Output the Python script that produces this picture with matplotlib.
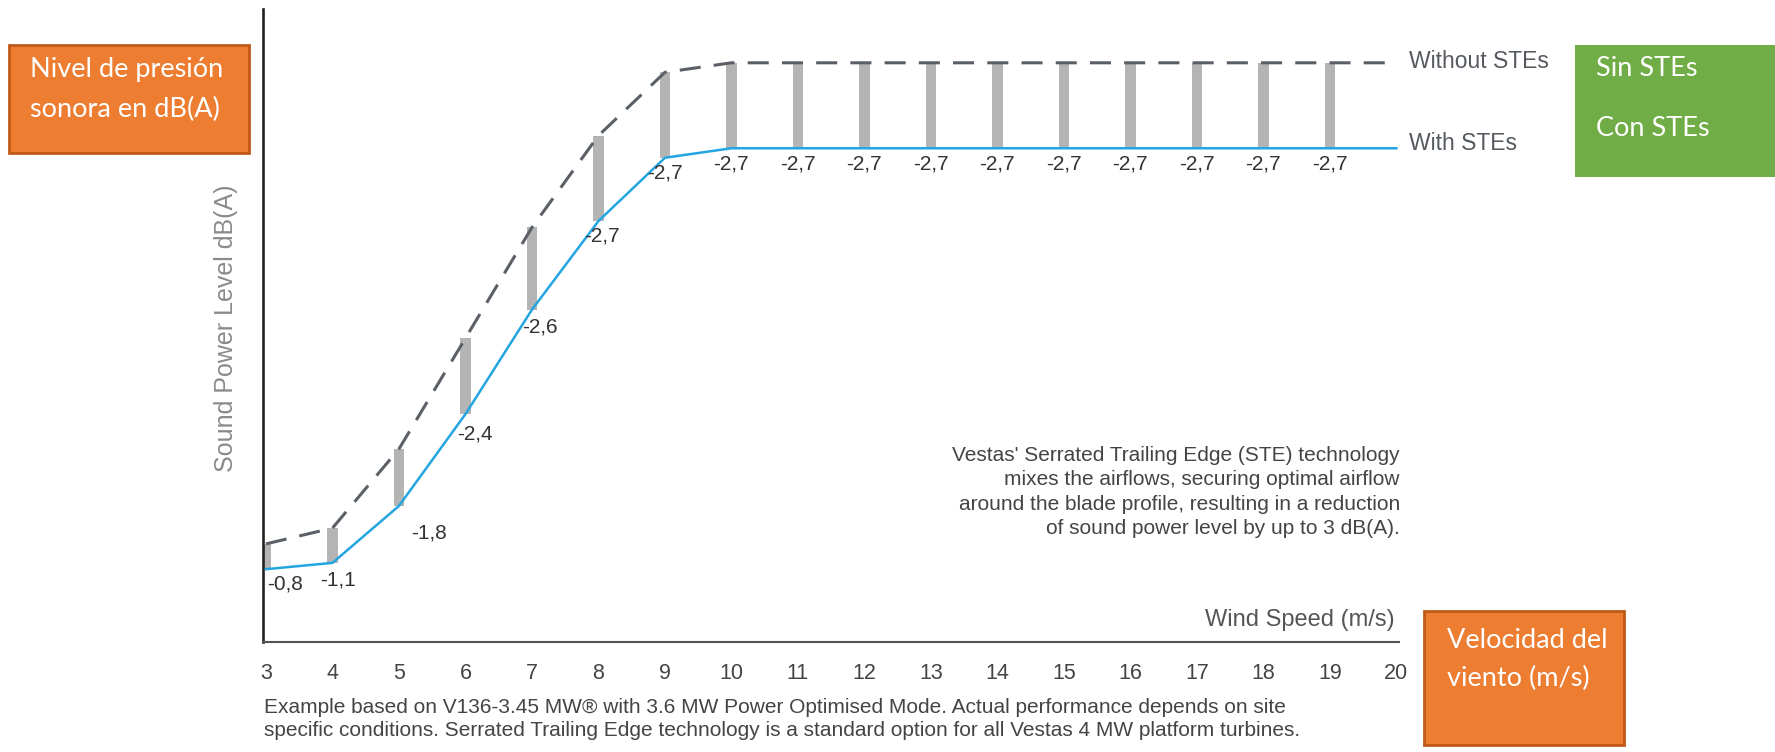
import matplotlib
matplotlib.use("Agg")
import matplotlib.pyplot as plt
from matplotlib.patches import Rectangle

# values (y axis has no ticks, dB values are estimates)
wind_speed = [3, 4, 5, 6, 7, 8, 9, 10, 11, 12, 13, 14, 15, 16, 17, 18, 19, 20]
without_ste = [93.1, 93.6, 96.1, 99.6, 103.1, 106.0, 108.0, 108.3, 108.3, 108.3,
               108.3, 108.3, 108.3, 108.3, 108.3, 108.3, 108.3, 108.3]
reduction = [-0.8, -1.1, -1.8, -2.4, -2.6, -2.7, -2.7, -2.7, -2.7, -2.7,
             -2.7, -2.7, -2.7, -2.7, -2.7, -2.7, -2.7, -2.7]
with_ste = [w + r for w, r in zip(without_ste, reduction)]
last_labelled = 19  # no bar / label at 20 m/s

# label offsets in pixels (dx, dy) relative to the "with" point
label_offsets = {3: (19, -15), 4: (6, -17), 5: (30, -27), 6: (9, -20),
                 7: (8, -17), 8: (3, -15), 9: (0, -15)}

W, H = 1775, 752
fig = plt.figure(figsize=(W / 100, H / 100), dpi=100)
FONT = ['Liberation Sans', 'DejaVu Sans']
BOXFONT = ['Lato', 'DejaVu Sans']


def px(x, y):
    return x / W, 1 - y / H


ax = fig.add_axes([263 / W, 1 - 642 / H, (1399 - 263) / W, (642 - 9) / H])
ax.set_xlim(2.955, 20.04)
ax.set_ylim(90, 110)

# grey difference bars
bx = [s for s in wind_speed if s <= last_labelled]
n = len(bx)
ax.bar(bx, [-r for r in reduction[:n]], bottom=with_ste[:n], width=0.16,
       color='#b4b4b4', zorder=1)

ax.plot(wind_speed, without_ste, color='#5b5f66', lw=2.2, dashes=(6.9, 4.3), zorder=3)
ax.plot(wind_speed, with_ste, color='#23a5e0', lw=1.8, zorder=3)

for s, w, r in zip(wind_speed[:n], with_ste[:n], reduction[:n]):
    dx, dy = label_offsets.get(s, (0, -16))
    ax.annotate(f"{r:.1f}".replace('.', ','), (s, w), xytext=(dx, dy),
                textcoords='offset pixels', ha='center', va='center',
                fontsize=15, color='#333333', family=FONT)

for side in ['top', 'right']:
    ax.spines[side].set_visible(False)
ax.spines['left'].set_color('#222222')
ax.spines['left'].set_linewidth(1.9)
ax.spines['bottom'].set_color('#555555')
ax.spines['bottom'].set_linewidth(1.5)
ax.set_yticks([])
ax.set_xticks(wind_speed)
ax.tick_params(axis='x', length=0, pad=15, labelsize=15.5, labelcolor='#444444')
for t in ax.get_xticklabels():
    t.set_family(FONT)

# axis titles
fig.text(*px(226, 328), 'Sound Power Level dB(A)', rotation=90, ha='center', va='center',
         fontsize=18, color='#8a8a8a', family=FONT)
fig.text(*px(1395, 620), 'Wind Speed (m/s)', ha='right', va='center',
         fontsize=17, color='#555555', family=FONT)

# series labels
fig.text(*px(1409, 62), 'Without STEs', ha='left', va='center', fontsize=16.5,
         color='#555a60', family=FONT)
fig.text(*px(1409, 144), 'With STEs', ha='left', va='center', fontsize=16.5,
         color='#555a60', family=FONT)

# explanation text
note = ("Vestas' Serrated Trailing Edge (STE) technology\n"
        "mixes the airflows, securing optimal airflow\n"
        "around the blade profile, resulting in a reduction\n"
        "of sound power level by up to 3 dB(A).")
fig.text(*px(1400, 492), note, ha='right', va='center', fontsize=15,
         color='#444444', family=FONT, linespacing=1.35)

foot = ("Example based on V136-3.45 MW\u00ae with 3.6 MW Power Optimised Mode. Actual performance depends on site\n"
        "specific conditions. Serrated Trailing Edge technology is a standard option for all Vestas 4 MW platform turbines.")
fig.text(*px(264, 719), foot, ha='left', va='center', fontsize=15,
         color='#444444', family=FONT, linespacing=1.25)

# coloured annotation boxes
fig.patches.append(Rectangle(px(9, 153), 240 / W, 108 / H, transform=fig.transFigure,
                             facecolor='#ed7d31', edgecolor='#c05a18', lw=2))
fig.text(*px(30, 69), 'Nivel de presión', ha='left', va='center', fontsize=19.5,
         color='white', family=BOXFONT)
fig.text(*px(30, 109), 'sonora en dB(A)', ha='left', va='center', fontsize=19.5,
         color='white', family=BOXFONT)

fig.patches.append(Rectangle(px(1575, 177), 200 / W, 132 / H, transform=fig.transFigure,
                             facecolor='#70ad47', edgecolor='none'))
fig.text(*px(1596, 69), 'Sin STEs', ha='left', va='center', fontsize=19.5,
         color='white', family=BOXFONT)
fig.text(*px(1596, 129), 'Con STEs', ha='left', va='center', fontsize=19.5,
         color='white', family=BOXFONT)

fig.patches.append(Rectangle(px(1424, 745), 200 / W, 134 / H, transform=fig.transFigure,
                             facecolor='#ed7d31', edgecolor='#c05a18', lw=2))
fig.text(*px(1447, 641), 'Velocidad del', ha='left', va='center', fontsize=19.5,
         color='white', family=BOXFONT)
fig.text(*px(1447, 678), 'viento (m/s)', ha='left', va='center', fontsize=19.5,
         color='white', family=BOXFONT)

fig.savefig('out.png', dpi=100)
